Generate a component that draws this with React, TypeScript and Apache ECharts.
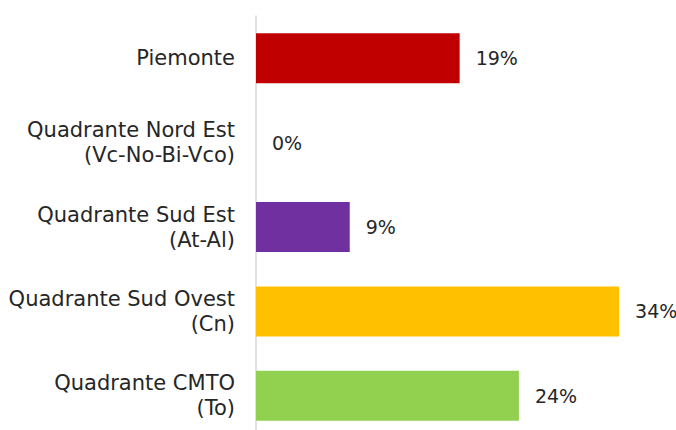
import React, { useEffect, useRef } from "react";
import * as echarts from "echarts";

const categories = [
  "Piemonte",
  "Quadrante Nord Est\n(Vc-No-Bi-Vco)",
  "Quadrante Sud Est\n(At-Al)",
  "Quadrante Sud Ovest\n(Cn)",
  "Quadrante CMTO\n(To)",
];
const values = [18.9, 0, 8.7, 33.7, 24.4];
const barColors = ["#C00000", "#4472C4", "#7030A0", "#FFC000", "#92D050"];

export default function App() {
  const ref = useRef<HTMLDivElement>(null);
  useEffect(() => {
    if (!ref.current) return;
    const chart = echarts.init(ref.current, null, { renderer: "svg" });
    const font = "DejaVu Sans";
    chart.setOption({
      animation: false,
      backgroundColor: "#ffffff",
      grid: {
        left: 256,
        top: 16,
        width: 431,
        height: 422,
        containLabel: false,
        outerBoundsMode: "none",
      },
      xAxis: {
        type: "value",
        min: 0,
        max: 40,
        show: false,
      },
      yAxis: {
        type: "category",
        inverse: true,
        data: categories,
        axisLine: { show: true, lineStyle: { color: "#D9D9D9", width: 1.5 } },
        axisTick: { show: false },
        splitLine: { show: false },
        axisLabel: {
          margin: 21,
          align: "right",
          fontFamily: font,
          fontSize: 21,
          lineHeight: 25,
          color: "#262626",
        },
      },
      series: [
        {
          type: "bar",
          barWidth: 50,
          data: values.map((v, i) => ({ value: v, itemStyle: { color: barColors[i] } })),
          label: {
            show: true,
            position: "right",
            distance: 16,
            fontFamily: font,
            fontSize: 19,
            color: "#262626",
            formatter: (p: any) => Math.round(p.value) + "%",
          },
        },
      ],
    });
    return () => chart.dispose();
  }, []);
  return (
    <div
      ref={ref}
      style={{ position: "fixed", left: 0, top: 0, width: 676, height: 430 }}
    />
  );
}
